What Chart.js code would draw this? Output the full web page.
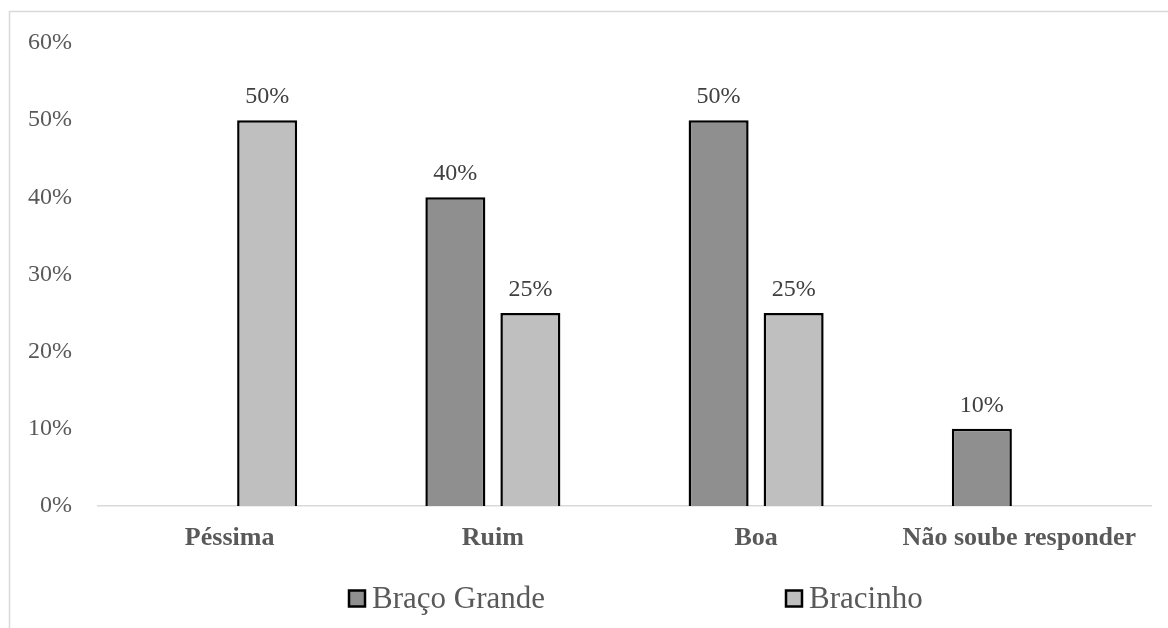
<!DOCTYPE html>
<html>
<head>
<meta charset="utf-8">
<title>Avaliação</title>
<script src="https://cdn.jsdelivr.net/npm/chart.js@4.4.1/dist/chart.umd.min.js"></script>
<style>
  html, body { margin: 0; padding: 0; background: #ffffff; }
  #wrap { width: 1168px; height: 628px; position: relative; }
  canvas { display: block; }
</style>
</head>
<body>
<div id="wrap"><canvas id="chart" width="1168" height="628"></canvas></div>
<script>
// Categories and series values (percent)
const categories = ['Péssima', 'Ruim', 'Boa', 'Não soube responder'];
const seriesNames = ['Braço Grande', 'Bracinho'];
const bracoGrande = [0, 40, 50, 10];
const bracinho = [50, 25, 25, 0];
const yTicks = [0, 10, 20, 30, 40, 50, 60];

const SERIF = "'Liberation Serif', 'Times New Roman', serif";
const fillColors = ['#8f8f8f', '#bfbfbf'];

// Light frame around the whole chart
const framePlugin = {
  id: 'frame',
  beforeDraw(chart) {
    const ctx = chart.ctx;
    ctx.save();
    ctx.fillStyle = '#ffffff';
    ctx.fillRect(0, 0, chart.width, chart.height);
    ctx.strokeStyle = '#d9d9d9';
    ctx.lineWidth = 1.5;
    ctx.strokeRect(9.5, 11.5, chart.width + 20, chart.height + 20);
    ctx.restore();
  }
};

// Value labels above each non-zero bar
const valueLabelPlugin = {
  id: 'valueLabels',
  afterDatasetsDraw(chart) {
    const ctx = chart.ctx;
    ctx.save();
    ctx.font = '24px ' + SERIF;
    ctx.fillStyle = '#404040';
    ctx.textAlign = 'center';
    ctx.textBaseline = 'alphabetic';
    chart.data.datasets.forEach((ds, di) => {
      const meta = chart.getDatasetMeta(di);
      meta.data.forEach((bar, i) => {
        const v = ds.data[i];
        if (!v) return;
        ctx.fillText(v + '%', bar.x, bar.y - 17);
      });
    });
    ctx.restore();
  }
};

// Legend row under the plot
const legendRowPlugin = {
  id: 'legendRow',
  afterDraw(chart) {
    const ctx = chart.ctx;
    const startX = 349, colWidth = 437, cy = 598.5, box = 16;
    ctx.save();
    ctx.font = '31px ' + SERIF;
    ctx.textBaseline = 'middle';
    ctx.textAlign = 'left';
    chart.data.datasets.forEach((ds, i) => {
      const x = startX + i * colWidth;
      ctx.fillStyle = ds.backgroundColor;
      ctx.fillRect(x, cy - box / 2, box, box);
      ctx.strokeStyle = '#000000';
      ctx.lineWidth = 2.5;
      ctx.strokeRect(x, cy - box / 2, box, box);
      ctx.fillStyle = '#595959';
      ctx.fillText(ds.label, x + box + 7, cy + 1);
    });
    ctx.restore();
  }
};

new Chart(document.getElementById('chart'), {
  type: 'bar',
  data: {
    labels: categories,
    datasets: [
      {
        label: seriesNames[0],
        data: bracoGrande,
        backgroundColor: fillColors[0],
        borderColor: '#000000',
        borderWidth: 2.5
      },
      {
        label: seriesNames[1],
        data: bracinho,
        backgroundColor: fillColors[1],
        borderColor: '#000000',
        borderWidth: 2.5
      }
    ]
  },
  options: {
    responsive: false,
    animation: false,
    devicePixelRatio: 1,
    categoryPercentage: 0.57,
    barPercentage: 0.8,
    layout: { padding: { top: 43, left: 0, right: 17, bottom: 0 } },
    plugins: {
      legend: { display: false },
      tooltip: { enabled: false }
    },
    scales: {
      x: {
        grid: { display: false, drawTicks: false },
        border: { display: true, color: '#d9d9d9', width: 1.5 },
        ticks: {
          padding: 17,
          color: '#595959',
          font: { family: SERIF, size: 26, weight: 'bold' },
          maxRotation: 0,
          autoSkip: false
        },
        afterFit(scale) { scale.height = 122; }
      },
      y: {
        min: 0,
        max: 60,
        grid: { display: false, drawTicks: false },
        border: { display: false },
        ticks: {
          padding: 26,
          color: '#595959',
          font: { family: SERIF, size: 24 },
          callback: (v) => v + '%'
        },
        afterBuildTicks(scale) {
          scale.ticks = yTicks.map((v) => ({ value: v }));
        },
        afterFit(scale) { scale.width = 98; }
      }
    }
  },
  plugins: [framePlugin, valueLabelPlugin, legendRowPlugin]
});
</script>
</body>
</html>
